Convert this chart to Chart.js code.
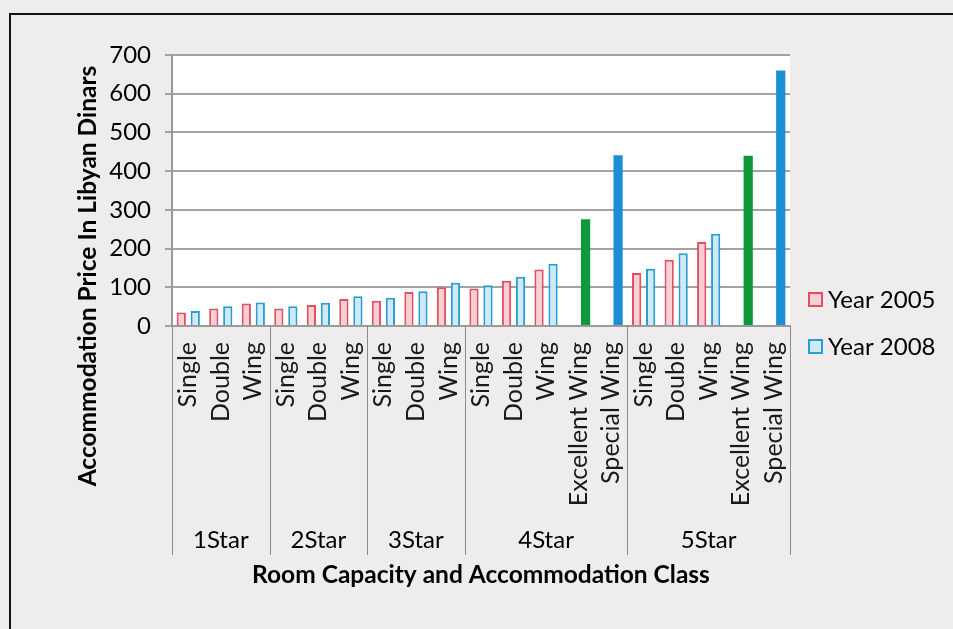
<!DOCTYPE html>
<html>
<head>
<meta charset="utf-8">
<title>Accommodation prices by class</title>
<script src="https://cdn.jsdelivr.net/npm/chart.js@4.4.0/dist/chart.umd.min.js"></script>
<style>
  html, body { margin: 0; padding: 0; background: #efeced; }
  #wrap { position: relative; width: 953px; height: 629px; overflow: hidden; }
  #frame { position: absolute; left: 9px; top: 13px; width: 1000px; height: 700px;
           border-left: 2px solid #111; border-top: 2px solid #111; }
  canvas { position: absolute; left: 0; top: 0; }
</style>
</head>
<body>
<div id="wrap">
  <div id="frame"></div>
  <canvas id="priceChart" width="953" height="629"></canvas>
</div>
<script>
// Room types along the x axis, grouped by hotel class
const roomTypes = [
    'Single', 'Double', 'Wing',
    'Single', 'Double', 'Wing',
    'Single', 'Double', 'Wing',
    'Single', 'Double', 'Wing', 'Excellent Wing', 'Special Wing',
    'Single', 'Double', 'Wing', 'Excellent Wing', 'Special Wing'
];
const starClasses = ['1Star', '2Star', '3Star', '4Star', '5Star'];
const roomsPerClass = [3, 3, 3, 5, 5];

// Prices in Libyan Dinars
const price2005 = [35, 45, 58, 45, 54, 70, 65, 88, 100, 97, 117, 146, null, null, 137, 171, 217, null, null];
const price2008 = [39, 51, 61, 51, 60, 77, 73, 90, 112, 105, 127, 161, 276, 441, 148, 188, 238, 440, 660];

const colors = {
    red: '#e0505f',
    pink: '#f8cfd4',
    blue: '#2a9dd2',
    paleBlue: '#cfe9f8',
    green: '#0e9a3c',
    solidBlue: '#1a8fd6'
};

Chart.defaults.font.family = "Lato, 'Open Sans', sans-serif";
Chart.defaults.color = '#000';

// Wing suites are drawn as solid bars without an outline
const isSuite = t => t === 'Excellent Wing' || t === 'Special Wing';
const fill2008 = roomTypes.map(t => t === 'Excellent Wing' ? colors.green : t === 'Special Wing' ? colors.solidBlue : colors.paleBlue);
const width2008 = roomTypes.map(t => isSuite(t) ? 0 : 2);

// White plot area, class labels under the room labels, y title and legend
const classAxis = {
    id: 'classAxis',
    beforeDraw(chart) {
        const { ctx, chartArea: a } = chart;
        ctx.save();
        ctx.fillStyle = '#fff';
        ctx.fillRect(a.left, a.top, a.right - a.left, a.bottom - a.top);
        ctx.restore();
    },
    afterDraw(chart) {
        const { ctx, chartArea: a, scales: { x } } = chart;
        const half = (x.getPixelForValue(1) - x.getPixelForValue(0)) / 2;
        const lineBottom = a.bottom + 229;
        const labelY = a.bottom + 214;
        ctx.save();
        ctx.strokeStyle = '#8c8c8c';
        ctx.lineWidth = 1;
        ctx.font = '24px Lato';
        ctx.fillStyle = '#000';
        ctx.textAlign = 'center';
        ctx.textBaseline = 'middle';
        const edges = [x.getPixelForValue(0) - half];
        let start = 0;
        starClasses.forEach((name, i) => {
            const end = start + roomsPerClass[i];
            const x0 = x.getPixelForValue(start) - half;
            const x1 = x.getPixelForValue(end - 1) + half;
            edges.push(x1);
            ctx.fillText(name, (x0 + x1) / 2, labelY);
            start = end;
        });
        edges.forEach(px => {
            const xx = Math.round(px) + 0.5;
            ctx.beginPath();
            ctx.moveTo(xx, a.bottom);
            ctx.lineTo(xx, lineBottom);
            ctx.stroke();
        });

        // legend, to the right of the plot
        ctx.textAlign = 'left';
        ctx.font = '24px Lato';
        ctx.lineWidth = 2;
        chart.data.datasets.forEach((ds, i) => {
            const cy = a.bottom - 26 + i * 47;
            const bx = a.right + 19;
            const fill = Array.isArray(ds.backgroundColor) ? ds.backgroundColor[0] : ds.backgroundColor;
            ctx.fillStyle = fill;
            ctx.fillRect(bx, cy - 7, 13, 13);
            ctx.strokeStyle = ds.borderColor;
            ctx.strokeRect(bx, cy - 7, 13, 13);
            ctx.fillStyle = '#000';
            ctx.fillText(ds.label, bx + 19, cy);
        });

        ctx.textAlign = 'center';
        ctx.translate(a.left - 84, a.top + 221);
        ctx.rotate(-Math.PI / 2);
        ctx.font = 'bold 24.5px Lato';
        ctx.fillText('Accommodation Price In Libyan Dinars', 0, 0);
        ctx.restore();
    }
};

const ctx = document.getElementById('priceChart').getContext('2d');
new Chart(ctx, {
    type: 'bar',
    data: {
        labels: roomTypes,
        datasets: [
            {
                label: 'Year 2005',
                data: price2005,
                backgroundColor: colors.pink,
                borderColor: colors.red,
                borderWidth: 2
            },
            {
                label: 'Year 2008',
                data: price2008,
                backgroundColor: fill2008,
                borderColor: colors.blue,
                borderWidth: width2008
            }
        ]
    },
    options: {
        responsive: false,
        animation: false,
        barPercentage: 0.66,
        categoryPercentage: 0.86,
        layout: {
            padding: { top: 55, right: 163, bottom: 35, left: 0 }
        },
        scales: {
            x: {
                grid: { display: false, drawTicks: false },
                border: { display: true, color: '#9a9a9a', width: 2 },
                ticks: {
                    autoSkip: false,
                    minRotation: 90,
                    maxRotation: 90,
                    padding: 16,
                    color: '#1a1a1a',
                    font: { size: 25 }
                },
                title: {
                    display: true,
                    text: 'Room Capacity and Accommodation Class',
                    font: { size: 24.5, weight: 'bold' },
                    padding: { top: 0, bottom: 4 }
                },
                afterFit: scale => { scale.height = 268; }
            },
            y: {
                min: 0,
                max: 700,
                ticks: { stepSize: 100, padding: 14, font: { size: 24 } },
                grid: { color: '#a3a3a3', lineWidth: 2, tickLength: 7 },
                border: { color: '#9a9a9a', width: 2 },
                afterFit: scale => { scale.width = 172; }
            }
        },
        plugins: {
            legend: { display: false },
            tooltip: { enabled: false }
        }
    },
    plugins: [classAxis]
});
</script>
</body>
</html>
